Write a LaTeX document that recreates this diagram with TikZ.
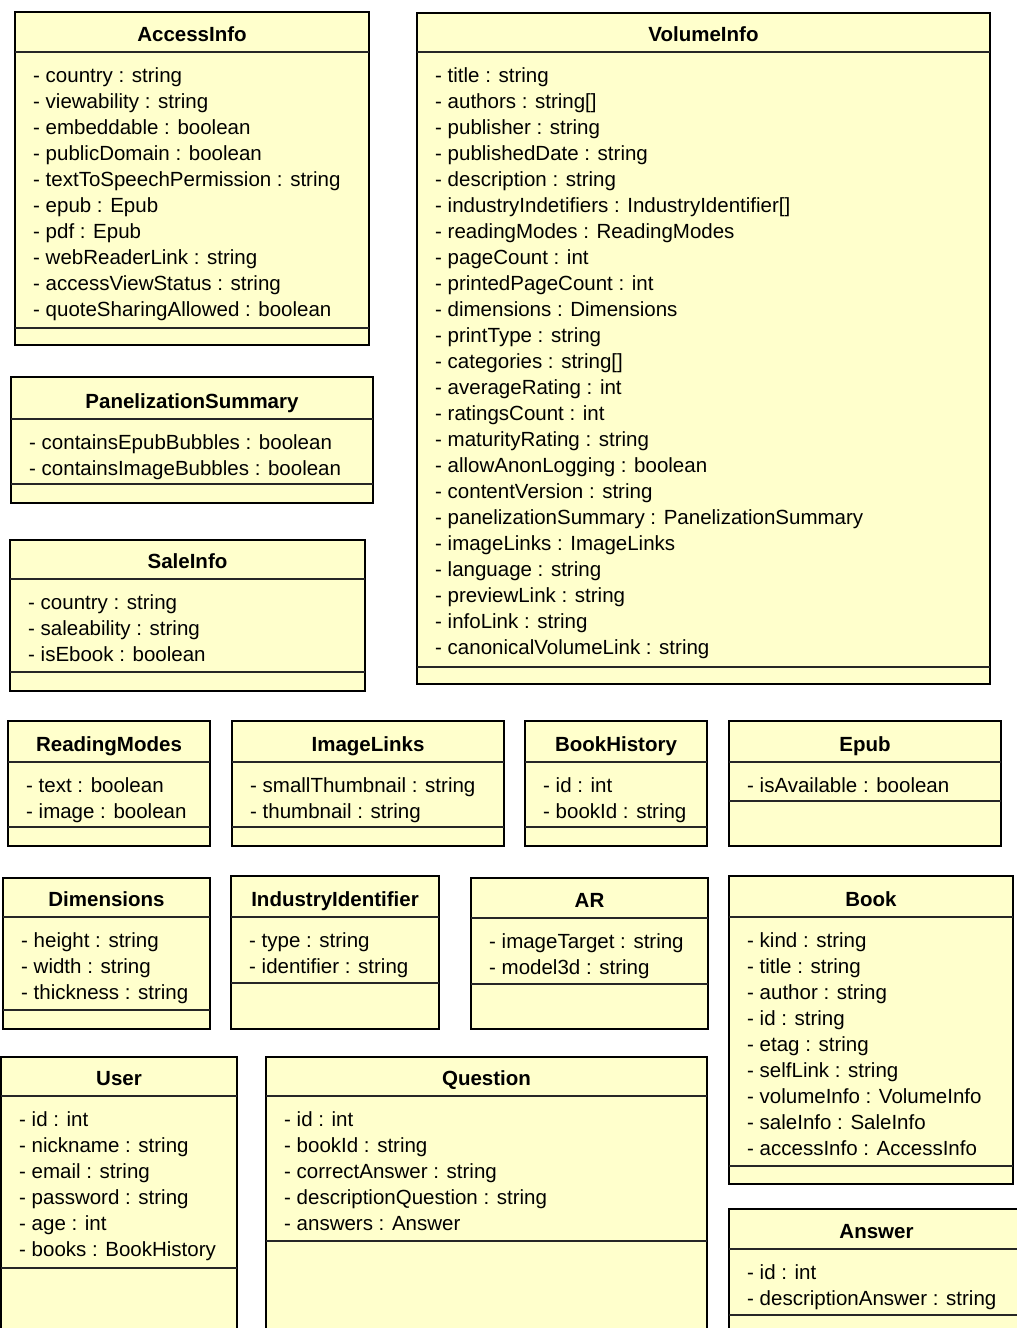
\documentclass[tikz,border=0pt]{standalone}
\usepackage{fontspec}
\setmainfont{Liberation Sans}
\definecolor{classfill}{RGB}{255,255,204}
\tikzset{
  classbox/.style={draw=black, line width=2.8pt, fill=classfill, inner sep=0pt, outer sep=0pt},
  compartment/.style={draw=black!85, line width=1.3pt},
  classname/.style={font=\fontsize{20.5}{24}\selectfont\bfseries, inner sep=0pt, anchor=base},
  attribute/.style={font=\fontsize{20.5}{24}\selectfont, inner sep=0pt, anchor=base west},
}
% #1 name, #2 left, #3 top, #4 right, #5 bottom,
% #6 y of the name/attribute divider, #7 y of the attribute/operation divider,
% #8 class name, #9 attribute list
\newcommand\umlclass[9]{%
  \node[classbox, minimum width={(#4-#2)*1pt}, minimum height={(#5-#3)*1pt}]
    (#1) at ({(#2+#4)/2},{(#3+#5)/2}) {};
  \draw[compartment] (#1.west |- 0,#6) -- (#1.east |- 0,#6);
  \draw[compartment] (#1.west |- 0,#7) -- (#1.east |- 0,#7);
  \node[classname] (#1-name) at ({(#2+#4)/2},{#6-10.5}) {#8};
  \foreach \attr [count=\k] in {#9}
    \node[attribute] (#1-attr\k) at ({#2+18},{#6+30+26*(\k-1)}) {- \attr};
}
\begin{document}
\begin{tikzpicture}[x=1pt,y=-1pt]
\useasboundingbox (0,0) rectangle (1017,1328);
\clip (0,0) rectangle (1017,1328);

\umlclass{accessinfo}{15}{12}{369}{345}{52}{328}{AccessInfo}{%
  country : string, viewability : string, embeddable : boolean,
  publicDomain : boolean, textToSpeechPermission : string, epub : Epub,
  pdf : Epub, webReaderLink : string, accessViewStatus : string,
  quoteSharingAllowed : boolean}

\umlclass{volumeinfo}{417}{13}{990}{684}{52}{667}{VolumeInfo}{%
  title : string, authors : string[], publisher : string,
  publishedDate : string, description : string,
  industryIndetifiers : IndustryIdentifier[], readingModes : ReadingModes,
  pageCount : int, printedPageCount : int, dimensions : Dimensions,
  printType : string, categories : string[], averageRating : int,
  ratingsCount : int, maturityRating : string, allowAnonLogging : boolean,
  contentVersion : string, panelizationSummary : PanelizationSummary,
  imageLinks : ImageLinks, language : string, previewLink : string,
  infoLink : string, canonicalVolumeLink : string}

\umlclass{panelization}{11}{377}{373}{503}{419}{484}{PanelizationSummary}{%
  containsEpubBubbles : boolean, containsImageBubbles : boolean}

\umlclass{saleinfo}{10}{540}{365}{691}{579}{672}{SaleInfo}{%
  country : string, saleability : string, isEbook : boolean}

\umlclass{readingmodes}{8}{721}{210}{846}{762}{827}{ReadingModes}{%
  text : boolean, image : boolean}

\umlclass{imagelinks}{232}{721}{504}{846}{762}{827}{ImageLinks}{%
  smallThumbnail : string, thumbnail : string}

\umlclass{bookhistory}{525}{721}{707}{846}{762}{827}{BookHistory}{%
  id : int, bookId : string}

\umlclass{epub}{729}{721}{1001}{846}{762}{801}{Epub}{%
  isAvailable : boolean}

\umlclass{dimensions}{3}{878}{210}{1029}{917}{1010}{Dimensions}{%
  height : string, width : string, thickness : string}

\umlclass{industryid}{231}{876}{439}{1029}{917}{983}{IndustryIdentifier}{%
  type : string, identifier : string}

\umlclass{ar}{471}{878}{708}{1029}{918}{984}{AR}{%
  imageTarget : string, model3d : string}

\umlclass{book}{729}{876}{1013}{1184}{917}{1166}{Book}{%
  kind : string, title : string, author : string, id : string,
  etag : string, selfLink : string, volumeInfo : VolumeInfo,
  saleInfo : SaleInfo, accessInfo : AccessInfo}

\umlclass{answer}{729}{1209}{1024}{1350}{1249}{1315}{Answer}{%
  id : int, descriptionAnswer : string}

\umlclass{user}{1}{1057}{237}{1350}{1096}{1268}{User}{%
  id : int, nickname : string, email : string, password : string,
  age : int, books : BookHistory}

\umlclass{question}{266}{1057}{707}{1350}{1096}{1241}{Question}{%
  id : int, bookId : string, correctAnswer : string,
  descriptionQuestion : string, answers : Answer}
\end{tikzpicture}
\end{document}
